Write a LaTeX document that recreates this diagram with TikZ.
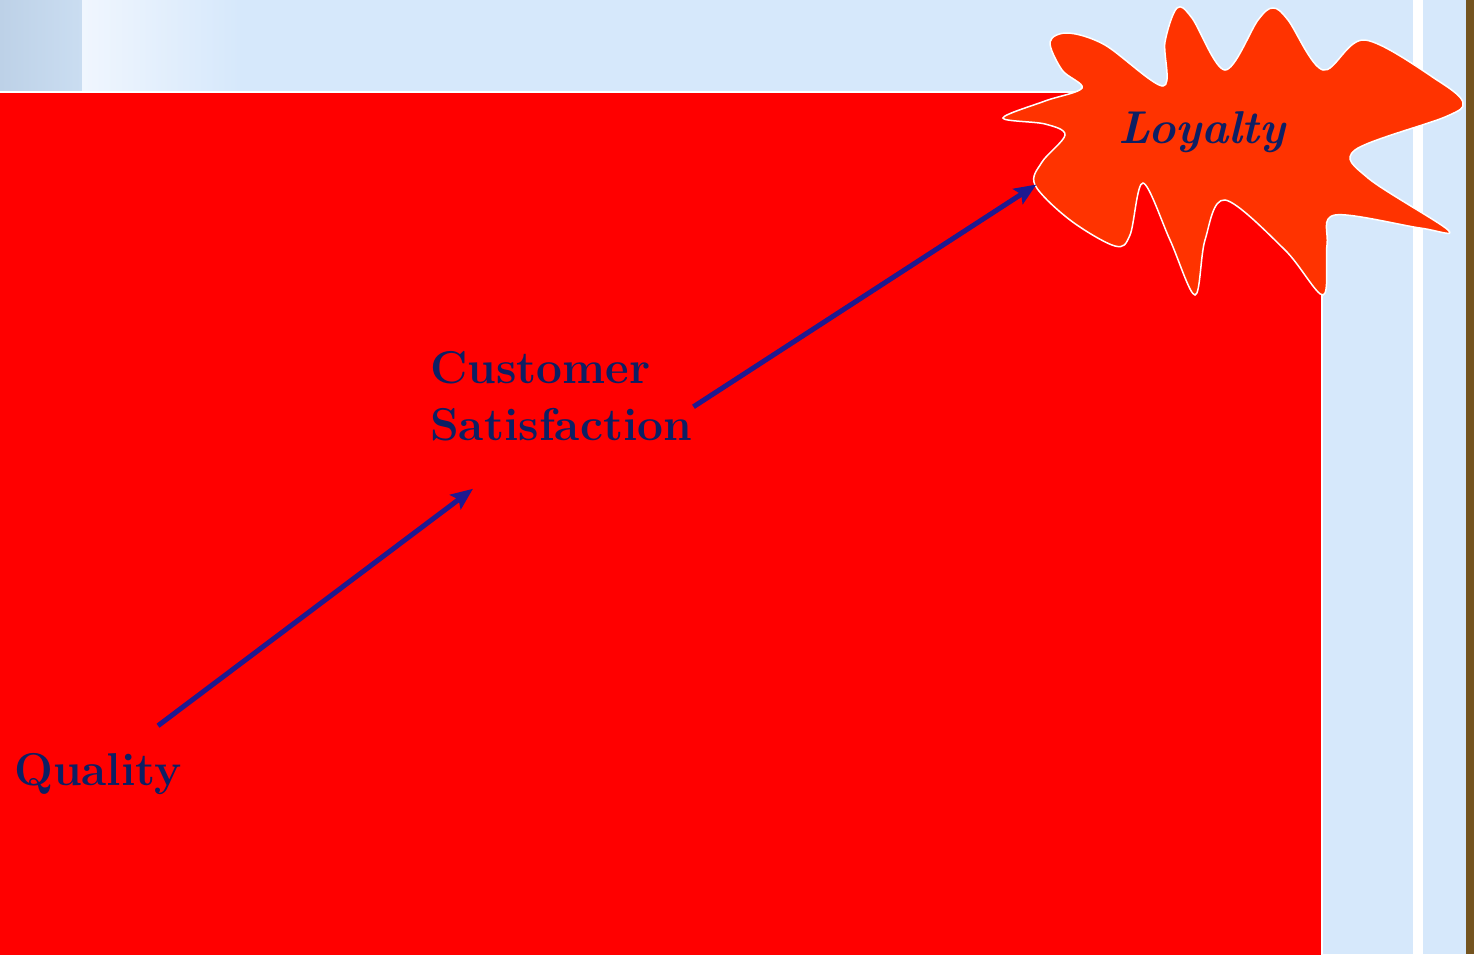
\documentclass[tikz,border=0pt]{standalone}
\usetikzlibrary{arrows.meta}

\definecolor{skyback}{HTML}{D6E8FB}
\definecolor{slidered}{HTML}{FF0000}
\definecolor{burstred}{HTML}{FF3300}
\definecolor{txtblue}{HTML}{0D1F63}
\definecolor{arrblue}{HTML}{1E1990}
\definecolor{frame}{HTML}{74541F}
\definecolor{picgrey}{HTML}{BDD1E7}
\definecolor{picgreyb}{HTML}{CADDF1}
\definecolor{picwhite}{HTML}{F0F6FE}

\begin{document}
\begin{tikzpicture}[x=1pt,y=-1pt,
    term/.style={font=\fontsize{46}{57}\selectfont\bfseries, text=txtblue,
      inner sep=0pt, align=left},
    linkarr/.style={line width=5pt, draw=arrblue,
      -{Stealth[length=22pt,width=18pt,inset=4pt]}}]
  \useasboundingbox (0,0) rectangle (1474,954);
  % slide background
  \fill[skyback] (0,0) rectangle (1474,954);
  \shade[left color=picgrey, right color=picgreyb] (0,0) rectangle (82,91);
  \shade[left color=picwhite, right color=skyback] (82,0) rectangle (240,91);
  \fill[white] (1413,0) rectangle (1423,954);
  \fill[frame] (1466,0) rectangle (1474,954);
  \fill[slidered, draw=white, line width=2pt] (-2,92) rectangle (1322,960);
  % burst
  \fill[burstred, draw=white, line width=1.5pt] plot[smooth cycle, tension=0.55]
    coordinates {(1003,118) (1045,101) (1082,88) (1062,70) (1050,42) (1068,33)
      (1105,45) (1163,86) (1165,42) (1177,8) (1192,18) (1225,70) (1258,20)
      (1273,8) (1288,20) (1323,70) (1365,40) (1440,82) (1463,103) (1445,117)
      (1355,150) (1368,178) (1448,230) (1420,228) (1335,215) (1327,245)
      (1323,295) (1285,250) (1225,200) (1205,240) (1195,295) (1170,240)
      (1143,183) (1130,235) (1115,246) (1070,220) (1035,185) (1042,162)
      (1065,135) (1045,124)};
  % texts
  \node[term, anchor=base west] (q) at (14,785) {Quality};
  \node[term, anchor=base west] (cs) at (430,440) {Customer\\Satisfaction};
  \node[term, anchor=base, font=\fontsize{46}{57}\selectfont\bfseries\itshape]
    (ly) at (1202,143) {Loyalty};
  % arrows
  \draw[linkarr] ([xshift=-24pt,yshift=27pt]q.north east)
    -- ([xshift=43pt,yshift=-48pt]cs.south west);
  \draw[linkarr] ([xshift=1pt,yshift=34pt]cs.south east)
    -- ([xshift=-82pt,yshift=-32pt]ly.south west);
\end{tikzpicture}
\end{document}
